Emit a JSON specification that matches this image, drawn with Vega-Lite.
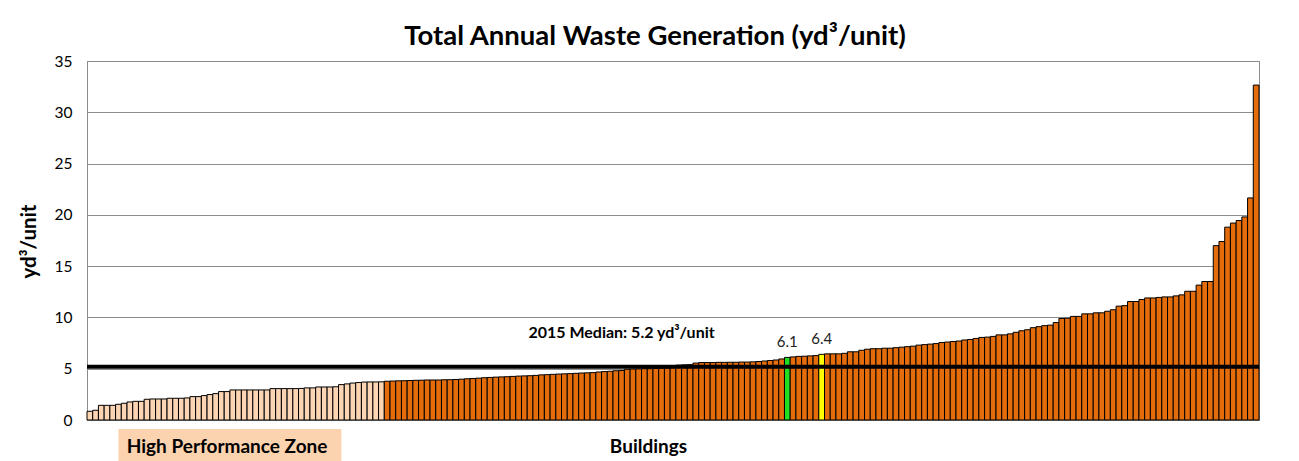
{
  "$schema": "https://vega.github.io/schema/vega-lite/v6.json",
  "width": 1172,
  "height": 359,
  "autosize": "none",
  "padding": {"left": 87, "top": 61, "right": 40, "bottom": 41},
  "background": "white",
  "config": {"view": {"stroke": "#8c8c8c", "strokeWidth": 1}, "font": "Lato"},
  "title": {"text": "Total Annual Waste Generation (yd³/unit)", "font": "Lato", "fontSize": 27.5, "fontWeight": "bold", "color": "#000", "offset": 4, "dx": -18},
  "datasets": {
    "bars": [
      {"i":0,"v":0.85,"g":"hp"},{"i":1,"v":0.95,"g":"hp"},{"i":2,"v":1.43,"g":"hp"},{"i":3,"v":1.43,"g":"hp"},{"i":4,"v":1.43,"g":"hp"},
      {"i":5,"v":1.53,"g":"hp"},{"i":6,"v":1.63,"g":"hp"},{"i":7,"v":1.76,"g":"hp"},{"i":8,"v":1.82,"g":"hp"},{"i":9,"v":1.82,"g":"hp"},
      {"i":10,"v":2.02,"g":"hp"},{"i":11,"v":2.05,"g":"hp"},{"i":12,"v":2.05,"g":"hp"},{"i":13,"v":2.05,"g":"hp"},{"i":14,"v":2.12,"g":"hp"},
      {"i":15,"v":2.12,"g":"hp"},{"i":16,"v":2.12,"g":"hp"},{"i":17,"v":2.15,"g":"hp"},{"i":18,"v":2.28,"g":"hp"},{"i":19,"v":2.28,"g":"hp"},
      {"i":20,"v":2.38,"g":"hp"},{"i":21,"v":2.48,"g":"hp"},{"i":22,"v":2.57,"g":"hp"},{"i":23,"v":2.77,"g":"hp"},{"i":24,"v":2.77,"g":"hp"},
      {"i":25,"v":2.93,"g":"hp"},{"i":26,"v":2.93,"g":"hp"},{"i":27,"v":2.93,"g":"hp"},{"i":28,"v":2.93,"g":"hp"},{"i":29,"v":2.93,"g":"hp"},
      {"i":30,"v":2.93,"g":"hp"},{"i":31,"v":2.93,"g":"hp"},{"i":32,"v":3.06,"g":"hp"},{"i":33,"v":3.06,"g":"hp"},{"i":34,"v":3.06,"g":"hp"},
      {"i":35,"v":3.06,"g":"hp"},{"i":36,"v":3.06,"g":"hp"},{"i":37,"v":3.08,"g":"hp"},{"i":38,"v":3.13,"g":"hp"},{"i":39,"v":3.13,"g":"hp"},
      {"i":40,"v":3.22,"g":"hp"},{"i":41,"v":3.22,"g":"hp"},{"i":42,"v":3.22,"g":"hp"},{"i":43,"v":3.24,"g":"hp"},{"i":44,"v":3.45,"g":"hp"},
      {"i":45,"v":3.52,"g":"hp"},{"i":46,"v":3.6,"g":"hp"},{"i":47,"v":3.65,"g":"hp"},{"i":48,"v":3.7,"g":"hp"},{"i":49,"v":3.71,"g":"hp"},
      {"i":50,"v":3.71,"g":"hp"},{"i":51,"v":3.72,"g":"hp"},
      {"i":52,"v":3.78,"g":"std"},{"i":53,"v":3.8,"g":"std"},{"i":54,"v":3.82,"g":"std"},{"i":55,"v":3.83,"g":"std"},{"i":56,"v":3.85,"g":"std"},
      {"i":57,"v":3.87,"g":"std"},{"i":58,"v":3.88,"g":"std"},{"i":59,"v":3.9,"g":"std"},{"i":60,"v":3.9,"g":"std"},{"i":61,"v":3.9,"g":"std"},
      {"i":62,"v":3.92,"g":"std"},{"i":63,"v":3.93,"g":"std"},{"i":64,"v":3.95,"g":"std"},{"i":65,"v":3.98,"g":"std"},{"i":66,"v":4.02,"g":"std"},
      {"i":67,"v":4.05,"g":"std"},{"i":68,"v":4.08,"g":"std"},{"i":69,"v":4.12,"g":"std"},{"i":70,"v":4.15,"g":"std"},{"i":71,"v":4.18,"g":"std"},
      {"i":72,"v":4.2,"g":"std"},{"i":73,"v":4.22,"g":"std"},{"i":74,"v":4.25,"g":"std"},{"i":75,"v":4.28,"g":"std"},{"i":76,"v":4.3,"g":"std"},
      {"i":77,"v":4.32,"g":"std"},{"i":78,"v":4.35,"g":"std"},{"i":79,"v":4.4,"g":"std"},{"i":80,"v":4.42,"g":"std"},{"i":81,"v":4.45,"g":"std"},
      {"i":82,"v":4.48,"g":"std"},{"i":83,"v":4.5,"g":"std"},{"i":84,"v":4.52,"g":"std"},{"i":85,"v":4.55,"g":"std"},{"i":86,"v":4.58,"g":"std"},
      {"i":87,"v":4.6,"g":"std"},{"i":88,"v":4.62,"g":"std"},{"i":89,"v":4.68,"g":"std"},{"i":90,"v":4.72,"g":"std"},{"i":91,"v":4.75,"g":"std"},
      {"i":92,"v":4.8,"g":"std"},{"i":93,"v":4.82,"g":"std"},{"i":94,"v":4.95,"g":"std"},{"i":95,"v":4.97,"g":"std"},{"i":96,"v":4.98,"g":"std"},
      {"i":97,"v":5.0,"g":"std"},{"i":98,"v":5.0,"g":"std"},{"i":99,"v":5.02,"g":"std"},{"i":100,"v":5.05,"g":"std"},{"i":101,"v":5.05,"g":"std"},
      {"i":102,"v":5.1,"g":"std"},{"i":103,"v":5.35,"g":"std"},{"i":104,"v":5.38,"g":"std"},{"i":105,"v":5.4,"g":"std"},{"i":106,"v":5.55,"g":"std"},
      {"i":107,"v":5.6,"g":"std"},{"i":108,"v":5.6,"g":"std"},{"i":109,"v":5.6,"g":"std"},{"i":110,"v":5.62,"g":"std"},{"i":111,"v":5.62,"g":"std"},
      {"i":112,"v":5.63,"g":"std"},{"i":113,"v":5.63,"g":"std"},{"i":114,"v":5.65,"g":"std"},{"i":115,"v":5.65,"g":"std"},{"i":116,"v":5.67,"g":"std"},
      {"i":117,"v":5.7,"g":"std"},{"i":118,"v":5.75,"g":"std"},{"i":119,"v":5.8,"g":"std"},{"i":120,"v":5.85,"g":"std"},{"i":121,"v":5.95,"g":"std"},
      {"i":122,"v":6.1,"g":"green"},{"i":123,"v":6.15,"g":"std"},{"i":124,"v":6.2,"g":"std"},{"i":125,"v":6.22,"g":"std"},{"i":126,"v":6.25,"g":"std"},
      {"i":127,"v":6.28,"g":"std"},{"i":128,"v":6.4,"g":"yellow"},{"i":129,"v":6.45,"g":"std"},{"i":130,"v":6.45,"g":"std"},{"i":131,"v":6.45,"g":"std"},
      {"i":132,"v":6.5,"g":"std"},{"i":133,"v":6.65,"g":"std"},{"i":134,"v":6.65,"g":"std"},{"i":135,"v":6.8,"g":"std"},{"i":136,"v":6.9,"g":"std"},
      {"i":137,"v":6.95,"g":"std"},{"i":138,"v":6.95,"g":"std"},{"i":139,"v":7.0,"g":"std"},{"i":140,"v":7.0,"g":"std"},{"i":141,"v":7.05,"g":"std"},
      {"i":142,"v":7.1,"g":"std"},{"i":143,"v":7.15,"g":"std"},{"i":144,"v":7.2,"g":"std"},{"i":145,"v":7.3,"g":"std"},{"i":146,"v":7.35,"g":"std"},
      {"i":147,"v":7.4,"g":"std"},{"i":148,"v":7.45,"g":"std"},{"i":149,"v":7.55,"g":"std"},{"i":150,"v":7.6,"g":"std"},{"i":151,"v":7.65,"g":"std"},
      {"i":152,"v":7.7,"g":"std"},{"i":153,"v":7.8,"g":"std"},{"i":154,"v":7.85,"g":"std"},{"i":155,"v":7.95,"g":"std"},{"i":156,"v":8.05,"g":"std"},
      {"i":157,"v":8.08,"g":"std"},{"i":158,"v":8.15,"g":"std"},{"i":159,"v":8.3,"g":"std"},{"i":160,"v":8.3,"g":"std"},{"i":161,"v":8.4,"g":"std"},
      {"i":162,"v":8.55,"g":"std"},{"i":163,"v":8.7,"g":"std"},{"i":164,"v":8.8,"g":"std"},{"i":165,"v":9.0,"g":"std"},{"i":166,"v":9.1,"g":"std"},
      {"i":167,"v":9.2,"g":"std"},{"i":168,"v":9.25,"g":"std"},{"i":169,"v":9.5,"g":"std"},{"i":170,"v":9.9,"g":"std"},{"i":171,"v":9.92,"g":"std"},
      {"i":172,"v":10.1,"g":"std"},{"i":173,"v":10.1,"g":"std"},{"i":174,"v":10.35,"g":"std"},{"i":175,"v":10.35,"g":"std"},{"i":176,"v":10.45,"g":"std"},
      {"i":177,"v":10.45,"g":"std"},{"i":178,"v":10.6,"g":"std"},{"i":179,"v":10.75,"g":"std"},{"i":180,"v":11.1,"g":"std"},{"i":181,"v":11.15,"g":"std"},
      {"i":182,"v":11.55,"g":"std"},{"i":183,"v":11.55,"g":"std"},{"i":184,"v":11.75,"g":"std"},{"i":185,"v":11.9,"g":"std"},{"i":186,"v":11.9,"g":"std"},
      {"i":187,"v":11.95,"g":"std"},{"i":188,"v":12.0,"g":"std"},{"i":189,"v":12.0,"g":"std"},{"i":190,"v":12.1,"g":"std"},{"i":191,"v":12.2,"g":"std"},
      {"i":192,"v":12.55,"g":"std"},{"i":193,"v":12.55,"g":"std"},{"i":194,"v":13.15,"g":"std"},{"i":195,"v":13.5,"g":"std"},{"i":196,"v":13.5,"g":"std"},
      {"i":197,"v":17.0,"g":"std"},{"i":198,"v":17.4,"g":"std"},{"i":199,"v":18.8,"g":"std"},{"i":200,"v":19.2,"g":"std"},{"i":201,"v":19.45,"g":"std"},
      {"i":202,"v":19.8,"g":"std"},{"i":203,"v":21.65,"g":"std"},{"i":204,"v":32.65,"g":"std"}
    ],
    "labels": [
      {"i":122,"v":6.1,"t":"6.1"},
      {"i":128,"v":6.4,"t":"6.4"}
    ],
    "median": [
      {"i":93,"v":8.53,"m":5.2,"t":"2015 Median: 5.2 yd³/unit"}
    ],
    "zone": [
      {"a":5,"b":44,"y1":-0.88,"y2":-4.5}
    ],
    "zonetext": [
      {"i":24,"v":-2.64,"t":"High Performance Zone"}
    ]
  },
  "layer": [
    {
      "data": {"name": "bars"},
      "mark": {"type": "bar", "stroke": "#000", "strokeWidth": 1},
      "encoding": {
        "x": {"field": "i", "type": "ordinal", "scale": {"paddingInner": 0, "paddingOuter": 0},
          "axis": {"title": "Buildings", "labels": false, "ticks": false, "grid": false, "domain": true, "domainColor": "#8c8c8c",
            "titleFontSize": 19, "titleFontWeight": "bold", "titleColor": "#000", "titleX": 561, "titleY": 26, "titleBaseline": "middle", "titleAlign": "center"}},
        "y": {"field": "v", "type": "quantitative", "scale": {"domain": [0, 35], "nice": false},
          "axis": {"title": "yd³/unit", "values": [0, 5, 10, 15, 20, 25, 30, 35], "grid": true, "gridColor": "#8c8c8c", "gridWidth": 1,
            "ticks": false, "domainColor": "#8c8c8c", "labelFontSize": 15.5, "labelPadding": 15, "labelColor": "#000",
            "titleFontSize": 20.5, "titleFontWeight": "bold", "titleColor": "#000", "titleX": -58, "titleY": 180, "titleAngle": -90,
            "titleAlign": "center", "titleBaseline": "middle"}},
        "color": {"field": "g", "type": "nominal", "scale": {"domain": ["hp", "std", "green", "yellow"], "range": ["#FCD5B5", "#E46C0A", "#22DD22", "#FFFF00"]}, "legend": null}
      }
    },
    {
      "data": {"name": "median"},
      "mark": {"type": "rule", "strokeWidth": 4, "color": "#000"},
      "encoding": {"y": {"field": "m", "type": "quantitative"}}
    },
    {
      "data": {"name": "labels"},
      "mark": {"type": "text", "baseline": "bottom", "dy": -7, "fontSize": 15, "color": "#222"},
      "encoding": {
        "x": {"field": "i", "type": "ordinal"},
        "y": {"field": "v", "type": "quantitative"},
        "text": {"field": "t"}
      }
    },
    {
      "data": {"name": "median"},
      "mark": {"type": "text", "baseline": "middle", "fontSize": 16, "fontWeight": "bold", "color": "#000"},
      "encoding": {
        "x": {"field": "i", "type": "ordinal"},
        "y": {"field": "v", "type": "quantitative"},
        "text": {"field": "t"}
      }
    },
    {
      "data": {"name": "zone"},
      "mark": {"type": "rect", "fill": "#FBD3AF"},
      "encoding": {
        "x": {"field": "a", "type": "ordinal"},
        "x2": {"field": "b"},
        "y": {"field": "y1", "type": "quantitative"},
        "y2": {"field": "y2"}
      }
    },
    {
      "data": {"name": "zonetext"},
      "mark": {"type": "text", "baseline": "middle", "fontSize": 19, "fontWeight": "bold", "color": "#000"},
      "encoding": {
        "x": {"field": "i", "type": "ordinal"},
        "y": {"field": "v", "type": "quantitative"},
        "text": {"field": "t"}
      }
    }
  ]
}
